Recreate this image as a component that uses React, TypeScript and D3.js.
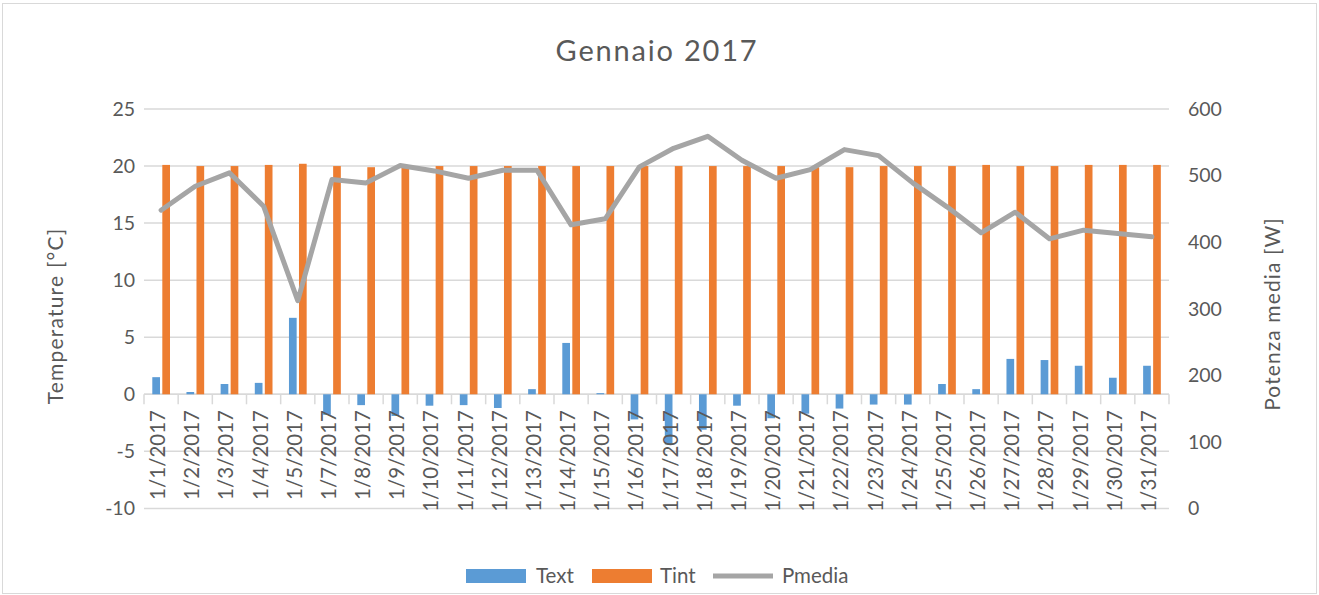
import React from "react";
import * as d3 from "d3";

const categories: string[] = [
  "1/1/2017", "1/2/2017", "1/3/2017", "1/4/2017", "1/5/2017", "1/7/2017", "1/8/2017", "1/9/2017",
  "1/10/2017", "1/11/2017", "1/12/2017", "1/13/2017", "1/14/2017", "1/15/2017", "1/16/2017",
  "1/17/2017", "1/18/2017", "1/19/2017", "1/20/2017", "1/21/2017", "1/22/2017", "1/23/2017",
  "1/24/2017", "1/25/2017", "1/26/2017", "1/27/2017", "1/28/2017", "1/29/2017", "1/30/2017", "1/31/2017",
];
const textValues: number[] = [
  1.5, 0.2, 0.9, 1.0, 6.7, -1.8, -0.95, -1.9, -1.0, -0.95, -1.2, 0.45, 4.5, 0.1, -2.2,
  -4.4, -3.1, -1.0, -2.1, -1.7, -1.25, -0.9, -0.9, 0.9, 0.45, 3.1, 3.0, 2.5, 1.45, 2.5,
];
const tintValues: number[] = [
  20.1, 20.0, 20.0, 20.1, 20.2, 20.0, 19.9, 20.0, 20.0, 20.0, 20.0, 20.0, 20.0, 20.0, 20.0,
  20.0, 20.0, 20.0, 20.0, 19.9, 19.9, 20.0, 20.0, 20.0, 20.1, 20.0, 20.0, 20.1, 20.1, 20.1,
];
const pmediaValues: number[] = [
  448, 484, 504, 454, 312, 494, 489, 515, 507, 496, 508, 508, 426, 435, 513,
  541, 559, 523, 496, 509, 539, 530, 489, 453, 414, 445, 405, 418, 413, 408,
];
const leftTicks: number[] = [-10, -5, 0, 5, 10, 15, 20, 25];
const rightTicks: number[] = [0, 100, 200, 300, 400, 500, 600];

const W = 1319;
const H = 595;
const FONT = "Lato, 'Open Sans', sans-serif";
const TXT = "#595959";
const GRID = "#d9d9d9";
const BLUE = "#5b9bd5";
const ORANGE = "#ed7d31";
const GRAY = "#a5a5a5";

export default function App() {
  const left = 144, right = 1169, top = 109, bottom = 508.4;
  const x = d3.scaleBand<string>().domain(categories).range([left, right]).paddingInner(0).paddingOuter(0);
  const yL = d3.scaleLinear().domain([-10, 25]).range([bottom, top]);
  const yR = d3.scaleLinear().domain([0, 600]).range([bottom, top]);
  const bw = x.bandwidth();
  const barW = bw * 0.225;
  const y0 = yL(0);

  const line = d3
    .line<number>()
    .x((_, i) => (x(categories[i]) as number) + bw / 2)
    .y((d) => yR(d));

  return (
    <svg
      width={W}
      height={H}
      style={{ position: "absolute", left: 0, top: 0, background: "#fff" }}
      fontFamily={FONT}
    >
      <rect x={2.5} y={3.5} width={1314} height={590} fill="#fff" stroke={GRID} strokeWidth={1} />
      <text x={657} y={61} textAnchor="middle" fontSize={29} letterSpacing={1.8} fill={TXT}>
        Gennaio 2017
      </text>

      {leftTicks.map((t) => (
        <line key={"g" + t} x1={left} x2={right} y1={yL(t)} y2={yL(t)} stroke={GRID} strokeWidth={1.5} />
      ))}
      {leftTicks.map((t) => (
        <text key={"l" + t} x={135} y={yL(t)} dy="0.35em" textAnchor="end" fontSize={19.5} fill={TXT}>
          {t}
        </text>
      ))}
      {rightTicks.map((t) => (
        <text key={"r" + t} x={1188} y={yR(t)} dy="0.35em" textAnchor="start" fontSize={19.5} fill={TXT}>
          {t}
        </text>
      ))}

      {/* x axis at 0 */}
      <line x1={left} x2={right} y1={y0} y2={y0} stroke={GRID} strokeWidth={1.5} />
      {d3.range(categories.length + 1).map((i) => {
        const xx = left + i * bw;
        return <line key={"t" + i} x1={xx} x2={xx} y1={y0} y2={y0 + 10} stroke={GRID} strokeWidth={1.5} />;
      })}

      {categories.map((c, i) => {
        const x0 = x(c) as number;
        const tv = textValues[i];
        const iv = tintValues[i];
        return (
          <g key={"b" + c}>
            <rect x={x0 + bw * 0.243} y={Math.min(yL(tv), y0)} width={barW} height={Math.abs(yL(tv) - y0)} fill={BLUE} />
            <rect x={x0 + bw * 0.536} y={Math.min(yL(iv), y0)} width={barW} height={Math.abs(yL(iv) - y0)} fill={ORANGE} />
          </g>
        );
      })}

      {categories.map((c) => {
        const cx = (x(c) as number) + bw / 2 + 4;
        return (
          <text
            key={"x" + c}
            transform={`translate(${cx},${410}) rotate(-90)`}
            textAnchor="end"
            fontSize={20.5}
            fill={TXT}
          >
            {c}
          </text>
        );
      })}

      <path d={line(pmediaValues) as string} fill="none" stroke={GRAY} strokeWidth={5} strokeLinejoin="round" strokeLinecap="round" />

      <text transform={`translate(63,316) rotate(-90)`} textAnchor="middle" fontSize={21} letterSpacing={1.2} fill={TXT}>
        Temperature [°C]
      </text>
      <text transform={`translate(1280,314) rotate(-90)`} textAnchor="middle" fontSize={21} letterSpacing={1.1} fill={TXT}>
        Potenza media [W]
      </text>

      {/* legend */}
      <rect x={466} y={569} width={60} height={14} fill={BLUE} />
      <text x={536} y={583} fontSize={20.5} fill={TXT}>Text</text>
      <rect x={592} y={569} width={60} height={14} fill={ORANGE} />
      <text x={660} y={583} fontSize={20.5} fill={TXT}>Tint</text>
      <line x1={713} x2={773} y1={576} y2={576} stroke={GRAY} strokeWidth={5} />
      <text x={782} y={583} fontSize={20.5} fill={TXT}>Pmedia</text>
    </svg>
  );
}
